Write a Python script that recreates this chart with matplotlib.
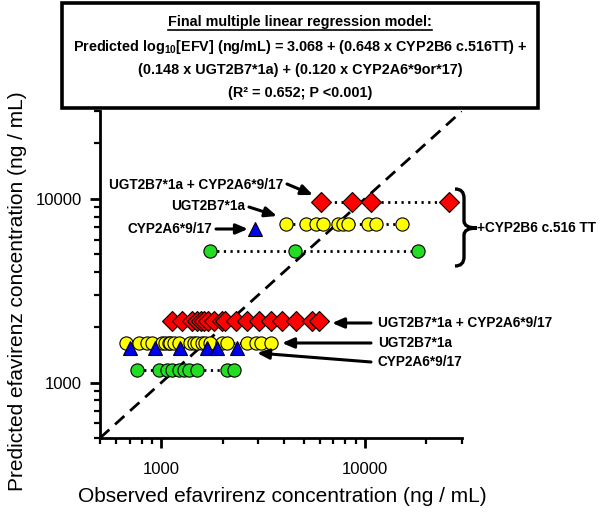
import matplotlib
matplotlib.use("Agg")
import matplotlib.pyplot as plt
from matplotlib.patches import Rectangle, PathPatch
from matplotlib.path import Path
from matplotlib.lines import Line2D
from matplotlib.ticker import LogLocator, FuncFormatter, NullFormatter
from matplotlib.transforms import IdentityTransform

plt.rcParams['font.family'] = ['Liberation Sans', 'DejaVu Sans']
plt.rcParams['mathtext.fontset'] = 'custom'
plt.rcParams['mathtext.rm'] = 'Liberation Sans'
plt.rcParams['mathtext.bf'] = 'Liberation Sans:bold'

# ---------------- data ----------------
# +CYP2B6 c.516 TT groups (upper)
hi_red_x = [6070, 8630, 10720, 25900]
hi_red_y = 9640
hi_yellow_x = [4080, 5120, 5740, 6210, 7360, 7800, 8250, 10360, 11320, 15200]
hi_yellow_y = 7310
hi_blue_x = [2900]
hi_blue_y = 6860
hi_green_x = [1743, 4520, 18240]
hi_green_y = 5200

# without CYP2B6 c.516 TT (lower)
lo_red_x = [1129, 1265, 1416, 1499, 1560, 1616, 1700, 1811, 1991, 2066, 2315,
            2645, 3017, 3442, 3933, 4575, 5524, 5955]
lo_red_y = 2170
lo_yellow_x = [672, 773, 850, 900, 1008, 1046, 1086, 1107, 1150, 1216, 1389,
               1442, 1499, 1586, 1648, 1742, 1990, 2108, 2645, 2904, 3074, 3442]
lo_yellow_y = 1640
lo_blue_x = [704, 934, 1241, 1679, 1881, 2361]
lo_blue_y = 1540
lo_green_x = [759, 970, 1067, 1129, 1217, 1288, 1362, 1499, 2108, 2270]
lo_green_y = 1170

ident = [500, 30000]
xlim = (500, 30000)
ylim = (500, 30000)

xlabel = "Observed efavrirenz concentration (ng / mL)"
ylabel = "Predicted efavirenz concentration (ng / mL)"
box_lines = [
    "Final multiple linear regression model:",
    "Predicted log$_{\\mathbf{10}}$[EFV] (ng/mL) = 3.068 + (0.648 x CYP2B6 c.516TT) +",
    "(0.148 x UGT2B7*1a) + (0.120 x CYP2A6*9or*17)",
    "(R\u00b2 = 0.652; P <0.001)",
]
lab_both = "UGT2B7*1a + CYP2A6*9/17"
lab_ugt = "UGT2B7*1a"
lab_cyp = "CYP2A6*9/17"
lab_b6 = "+CYP2B6 c.516 TT"

RED = "#ff0000"
YEL = "#ffff00"
BLU = "#0000ee"
GRN = "#22dd22"

W, H = 605, 514
fig = plt.figure(figsize=(W / 100, H / 100), dpi=100)


def fp(x, y):
    return (x / W, 1 - y / H)


ax = fig.add_axes([100 / W, 1 - 438 / H, 362 / W, 327 / H])
ax.set_xscale('log')
ax.set_yscale('log')
ax.set_xlim(*xlim)
ax.set_ylim(*ylim)

ax.plot(ident, ident, color='black', lw=2, ls=(0, (4.5, 2.8)), zorder=1)


def row(xs, y, color, marker, ms, z, line=True):
    ys = [y] * len(xs)
    if line and len(xs) > 1:
        ax.plot([min(xs), max(xs)], [y, y], color='black', lw=2,
                ls=(0, (0.8, 1.6)), zorder=z - 0.5)
    ax.plot(xs, ys, ls='none', marker=marker, ms=ms, mfc=color, mec='black',
            mew=0.8, zorder=z)


row(hi_green_x, hi_green_y, GRN, 'o', 9.5, 3)
row(hi_yellow_x, hi_yellow_y, YEL, 'o', 9.5, 3)
row(hi_blue_x, hi_blue_y, BLU, '^', 10, 4, line=False)
row(hi_red_x, hi_red_y, RED, 'D', 10.3, 5)
row(lo_green_x, lo_green_y, GRN, 'o', 9.5, 3)
row(lo_yellow_x, lo_yellow_y, YEL, 'o', 9.5, 3)
row(lo_blue_x, lo_blue_y, BLU, '^', 10, 4, line=False)
row(lo_red_x, lo_red_y, RED, 'D', 10.3, 5)

for s in ['top', 'right']:
    ax.spines[s].set_visible(False)
for s in ['left', 'bottom']:
    ax.spines[s].set_linewidth(2)

for axis in (ax.xaxis, ax.yaxis):
    axis.set_major_locator(LogLocator(base=10, numticks=10))
    axis.set_minor_locator(LogLocator(base=10, subs=range(2, 10), numticks=20))
    axis.set_major_formatter(FuncFormatter(lambda v, p: f"{int(round(v))}"))
    axis.set_minor_formatter(NullFormatter())
ax.tick_params(which='major', length=7, width=2, labelsize=12, direction='out')
ax.tick_params(which='minor', length=4, width=1.6, direction='out')
ax.tick_params(axis='x', pad=10)
ax.tick_params(axis='y', pad=6)

fig.text(*fp(282, 497), xlabel, ha='center', va='center', fontsize=15)
fig.text(*fp(18, 291), ylabel, ha='center', va='center', fontsize=15,
         rotation=90)

# ---- annotations ----
tb = dict(fontsize=9.8, fontweight='bold', va='center', zorder=8)
arr = dict(arrowstyle='-|>,head_length=0.7,head_width=0.3', lw=2.2,
           color='black', shrinkA=0, shrinkB=0)

fig.text(*fp(283, 185), lab_both, ha='right', **tb)
ax.annotate("", xy=fp(313, 195), xytext=fp(287, 184),
            xycoords='figure fraction', textcoords='figure fraction',
            arrowprops=arr)
fig.text(*fp(245, 206), lab_ugt, ha='right', **tb)
ax.annotate("", xy=fp(277, 216), xytext=fp(249, 207),
            xycoords='figure fraction', textcoords='figure fraction',
            arrowprops=arr)
fig.text(*fp(212, 229), lab_cyp, ha='right', **tb)
ax.annotate("", xy=fp(248, 229), xytext=fp(216, 229),
            xycoords='figure fraction', textcoords='figure fraction',
            arrowprops=arr)

fig.text(*fp(378, 323), lab_both, ha='left', **tb)
ax.annotate("", xy=fp(332, 323), xytext=fp(371, 323),
            xycoords='figure fraction', textcoords='figure fraction',
            arrowprops=arr)
fig.text(*fp(378, 343), lab_ugt, ha='left', **tb)
ax.annotate("", xy=fp(282, 343), xytext=fp(371, 343),
            xycoords='figure fraction', textcoords='figure fraction',
            arrowprops=arr)
fig.text(*fp(378, 362), lab_cyp, ha='left', **tb)
ax.annotate("", xy=fp(257, 353), xytext=fp(371, 362),
            xycoords='figure fraction', textcoords='figure fraction',
            arrowprops=arr)

# curly brace
bx0, bx1, bxt = 455, 464, 477
by0, bym, by1 = 189, 228, 266
pts = [(bx0, by0), (bx1, by0), (bx1, by0 + 9),
       (bx1, bym - 7), (bx1, bym), (bxt, bym),
       (bx1, bym), (bx1, bym + 7),
       (bx1, by1 - 9), (bx1, by1), (bx0, by1)]
codes = [Path.MOVETO, Path.CURVE3, Path.CURVE3,
         Path.LINETO, Path.CURVE3, Path.CURVE3,
         Path.CURVE3, Path.CURVE3,
         Path.LINETO, Path.CURVE3, Path.CURVE3]
brace = Path([fp(*p) for p in pts], codes)
fig.add_artist(PathPatch(brace, transform=fig.transFigure, fill=False,
                         lw=2.4, edgecolor='black', zorder=8))
fig.text(*fp(477, 228), lab_b6, ha='left', **tb)

# ---- model box ----
x0, y0 = fp(62, 108)
x1, y1 = fp(538, 3)
fig.add_artist(Rectangle((x0, y0), x1 - x0, y1 - y0, transform=fig.transFigure,
                         facecolor='white', edgecolor='black', lw=2.6,
                         zorder=6))
ys = [22, 47, 70, 93]
title_t = None
for i, (s, yy) in enumerate(zip(box_lines, ys)):
    t = fig.text(*fp(300, yy), s, ha='center', va='center', fontsize=10.4,
                 fontweight='bold', zorder=9)
    if i == 0:
        title_t = t

fig.canvas.draw()
bb = title_t.get_window_extent()
uy = bb.y0 - 1
fig.add_artist(Line2D([bb.x0, bb.x1], [uy, uy], transform=IdentityTransform(),
                      color='black', lw=1.2, zorder=9))

fig.savefig("out.png", dpi=100)
